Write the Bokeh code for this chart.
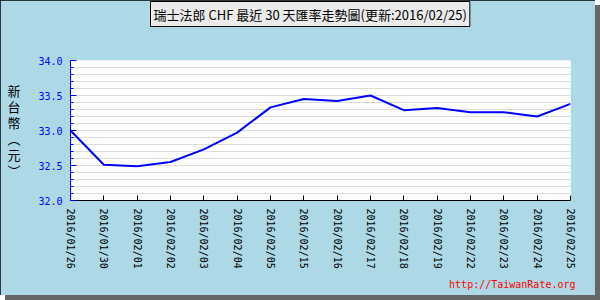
from bokeh.plotting import figure
from bokeh.models import Title, FixedTicker, Range1d, PrintfTickFormatter
from bokeh.embed import file_html
from bokeh.resources import INLINE

# ---- data ----
dates = ["2016/01/26", "2016/01/30", "2016/02/01", "2016/02/02", "2016/02/03",
         "2016/02/04", "2016/02/05", "2016/02/15", "2016/02/16", "2016/02/17",
         "2016/02/18", "2016/02/19", "2016/02/22", "2016/02/23", "2016/02/24",
         "2016/02/25"]
rates = [33.00, 32.51, 32.49, 32.55, 32.73, 32.97, 33.33, 33.45, 33.42, 33.50,
         33.29, 33.32, 33.26, 33.26, 33.20, 33.38]
y_major = [32.0, 32.5, 33.0, 33.5, 34.0]
y_minor = [32.1, 32.2, 32.3, 32.4, 32.6, 32.7, 32.8, 32.9, 33.1, 33.2, 33.3, 33.4,
           33.6, 33.7, 33.8, 33.9]
series_label = "瑞士法郎 CHF 最近 30 天匯率走勢圖(更新:2016/02/25)"
y_label_chars = ["新", "台", "幣", "︵", "元", "︶"]
watermark = "http://TaiwanRate.org"

xs = list(range(len(dates)))

p = figure(width=595, height=295, output_backend="svg", toolbar_location=None,
           x_range=Range1d(0, len(dates) - 1), y_range=Range1d(y_major[0], y_major[-1]),
           min_border_left=70, min_border_right=25, min_border_top=60, min_border_bottom=95,
           border_fill_color="#ADD8E6", background_fill_color="white",
           outline_line_color=None)
p.styles = {"box-shadow": "5px 5px 0px 0px #666666",
            "outline": "1px solid black", "outline-offset": "-1px"}

r = p.line(xs, rates, line_color="blue", line_width=2)

# x axis
p.xaxis.ticker = FixedTicker(ticks=xs)
p.xaxis.major_label_overrides = {i: d for i, d in enumerate(dates)}
p.xaxis.major_label_orientation = "vertical"
p.xaxis.major_label_text_font = "DejaVu Sans Mono"
p.xaxis.major_label_text_font_size = "10px"
p.xaxis.major_label_text_color = "black"
p.xaxis.major_label_standoff = 8
p.xaxis.axis_line_color = "black"
p.xaxis.major_tick_line_color = "black"
p.xaxis.major_tick_in = 5
p.xaxis.major_tick_out = 0
p.xaxis.minor_tick_line_color = None
p.xgrid.visible = False

# y axis
yt = FixedTicker(ticks=y_major, minor_ticks=y_minor)
p.yaxis.ticker = yt
p.yaxis.formatter = PrintfTickFormatter(format="%.1f")
p.yaxis.major_label_text_font = "DejaVu Sans Mono"
p.yaxis.major_label_text_font_size = "10px"
p.yaxis.major_label_text_color = "blue"
p.yaxis.major_label_standoff = 8
p.yaxis.axis_line_color = "blue"
p.yaxis.major_tick_line_color = "blue"
p.yaxis.minor_tick_line_color = "blue"
p.yaxis.major_tick_in = 6
p.yaxis.major_tick_out = 0
p.yaxis.minor_tick_in = 3
p.yaxis.minor_tick_out = 0
p.yaxis.axis_label = "\n".join(y_label_chars)
p.yaxis.axis_label_orientation = "horizontal"
p.yaxis.axis_label_text_font = "Noto Sans CJK TC"
p.yaxis.axis_label_text_font_size = "13px"
p.yaxis.axis_label_text_font_style = "normal"
p.yaxis.axis_label_text_color = "black"
p.yaxis.axis_label_text_line_height = 0.85
p.yaxis.axis_label_standoff = 15
p.ygrid.ticker = yt
p.ygrid.grid_line_color = "#DCDCDC"
p.ygrid.minor_grid_line_color = "#DCDCDC"

# header box (plot title, outermost in the top panel)
hdr_kw = dict(text=series_label, align="left", vertical_align="middle", offset=80,
              standoff=0, text_font="Noto Sans CJK TC", text_font_size="13px",
              text_font_style="normal", text_color="black",
              background_fill_color="#EBEBEB", border_line_color="black",
              border_line_width=1)
try:
    header = Title(padding=3, **hdr_kw)
except Exception:
    header = Title(**hdr_kw)
p.title = header
p.title_location = "above"

# invisible spacer between header and plot area
p.add_layout(Title(text=" ", text_font_size="1px", standoff=30), "above")

# watermark
p.add_layout(Title(text=watermark, align="right", text_color="red",
                   text_font="DejaVu Sans Mono", text_font_size="10px",
                   text_font_style="normal", offset=-5), "below")

open("out.html", "w").write(file_html(p, INLINE))
